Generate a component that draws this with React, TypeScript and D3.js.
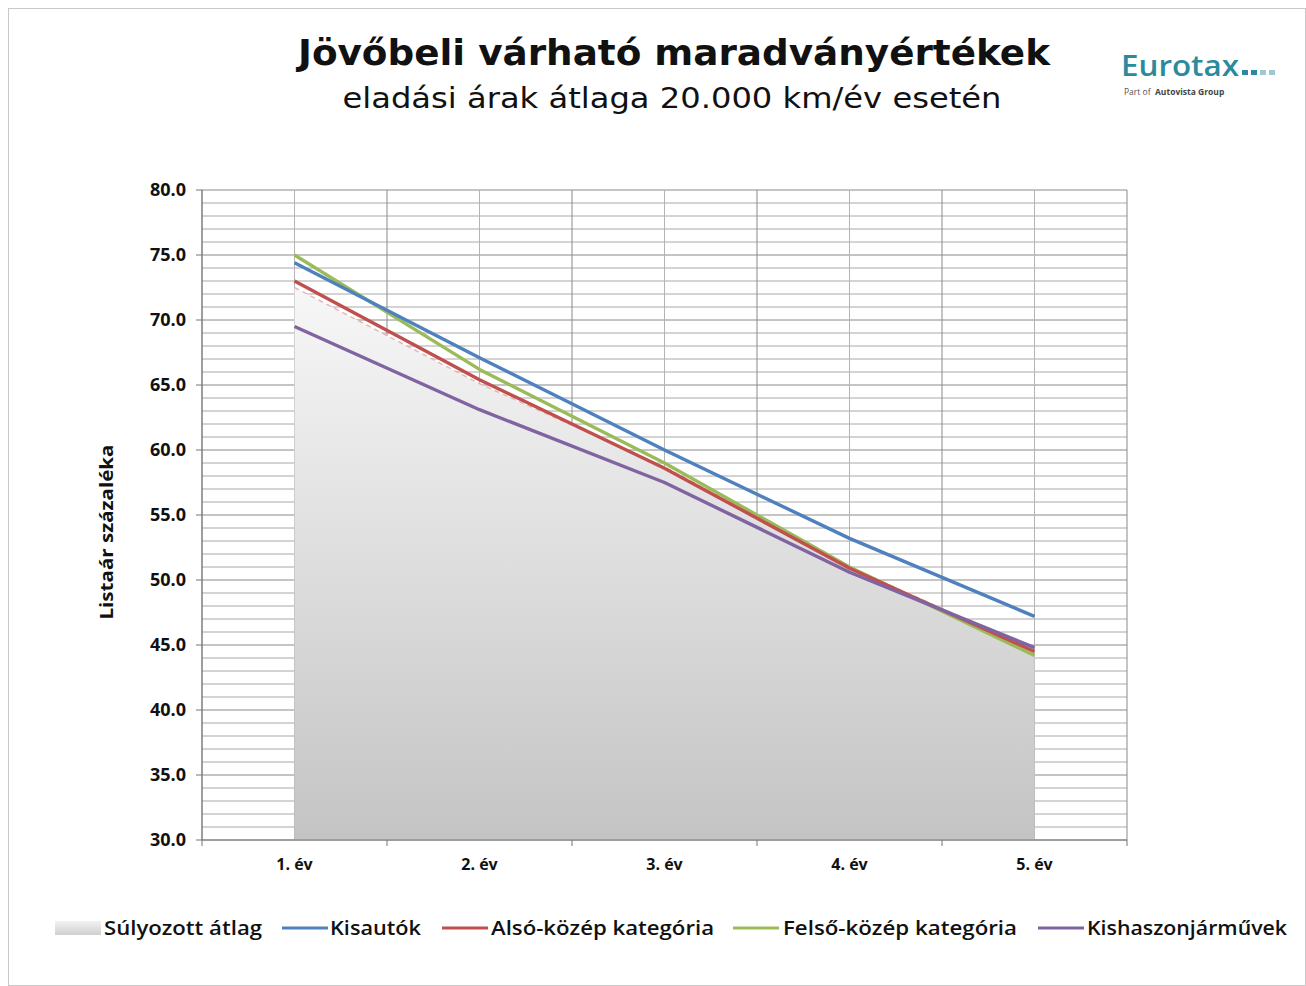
import React from "react";
import * as d3 from "d3";

const categories = ["1. év", "2. év", "3. év", "4. év", "5. év"];
const avgSeries = [72.5, 65.1, 58.7, 51.0, 44.6];
const kisautok = [74.4, 67.1, 60.0, 53.2, 47.2];
const alsoKozep = [73.0, 65.4, 58.6, 50.9, 44.5];
const felsoKozep = [75.0, 66.2, 59.0, 51.0, 44.2];
const kishaszon = [69.5, 63.1, 57.5, 50.6, 44.8];
const yTicks = [30, 35, 40, 45, 50, 55, 60, 65, 70, 75, 80];

const lineSeries = [
  { name: "Kisautók", values: kisautok, color: "#4f81bd" },
  { name: "Alsó-közép kategória", values: alsoKozep, color: "#c0504d" },
  { name: "Felső-közép kategória", values: felsoKozep, color: "#9bbb59" },
  { name: "Kishaszonjárművek", values: kishaszon, color: "#8064a2" },
];
const drawOrder = [2, 1, 0, 3];

const W = 1306;
const H = 986;
const left = 202, right = 1127, top = 190, bottom = 840;
const FONT = "'Open Sans', sans-serif";
const TFONT = "'DejaVu Sans', sans-serif";

export default function App() {
  const x = d3.scaleBand<string>().domain(categories).range([left, right]);
  const cx = (c: string) => (x(c) as number) + x.bandwidth() / 2;
  const y = d3.scaleLinear().domain([30, 80]).range([bottom, top]);
  const minor = d3.range(30, 81, 1);

  const line = d3
    .line<number>()
    .x((_, i) => cx(categories[i]))
    .y((d) => y(d));
  const area = d3
    .area<number>()
    .x((_, i) => cx(categories[i]))
    .y0(y(30))
    .y1((d) => y(d));

  const vLines: number[] = [];
  categories.forEach((c) => {
    vLines.push(x(c) as number);
    vLines.push(cx(c));
  });
  vLines.push(right);

  const legendItems = [
    { label: "Súlyozott átlag", sw: 55, tx: 104, len: 158, type: "area", color: "" },
    { label: "Kisautók", sw: 282, tx: 330, len: 91, type: "line", color: "#4f81bd" },
    { label: "Alsó-közép kategória", sw: 442, tx: 491, len: 223, type: "line", color: "#c0504d" },
    { label: "Felső-közép kategória", sw: 733, tx: 783, len: 234, type: "line", color: "#9bbb59" },
    { label: "Kishaszonjárművek", sw: 1038, tx: 1087, len: 200, type: "line", color: "#8064a2" },
  ];

  return (
    <svg
      width={W}
      height={H}
      style={{ position: "absolute", left: 0, top: 0, background: "#fff" }}
      fontFamily={FONT}
    >
      <defs>
        <linearGradient id="avgGrad" x1="0" y1="0" x2="0" y2="1">
          <stop offset="0%" stopColor="#f7f7f7" />
          <stop offset="100%" stopColor="#c4c4c4" />
        </linearGradient>
        <linearGradient id="legGrad" x1="0" y1="0" x2="0" y2="1">
          <stop offset="0%" stopColor="#f2f2f2" />
          <stop offset="100%" stopColor="#cfcfcf" />
        </linearGradient>
      </defs>
      <rect x={8.5} y={8.5} width={W - 9} height={H - 9} fill="#fff" stroke="#c8c8c8" />

      {/* Title */}
      <text x={674} y={65} textAnchor="middle" fontSize={36} fontWeight={700} fill="#111" fontFamily={TFONT} textLength={752} lengthAdjust="spacingAndGlyphs">
        Jövőbeli várható maradványértékek
      </text>
      <text x={672} y={108} textAnchor="middle" fontSize={28} fill="#111" fontFamily={TFONT} textLength={659} lengthAdjust="spacingAndGlyphs">
        eladási árak átlaga 20.000 km/év esetén
      </text>

      {/* Logo */}
      <text x={1121} y={76} fontSize={29} fontWeight={600} fill="#2b8a9c" textLength={118} lengthAdjust="spacingAndGlyphs">
        Eurotax
      </text>
      {[0, 1, 2, 3].map((i) => (
        <rect key={i} x={1242 + i * 9} y={70} width={6} height={5} fill={i < 2 ? "#2b8a9c" : "#9fc9d2"} />
      ))}
      <text x={1124} y={95} fontSize={8.5} fill="#555">
        Part of
      </text>
      <text x={1155} y={95} fontSize={8.5} fontWeight={700} fill="#444">
        Autovista Group
      </text>

      {/* Grid */}
      {minor.map((v) => (
        <line key={"h" + v} x1={left} x2={right} y1={y(v)} y2={y(v)} stroke={v % 5 === 0 ? "#8a8a8a" : "#a8a8a8"} strokeWidth={1} />
      ))}
      {vLines.map((vx, i) => (
        <line key={"v" + i} x1={vx} x2={vx} y1={top} y2={bottom} stroke={i % 2 === 0 ? "#8a8a8a" : "#b4b4b4"} strokeWidth={1} />
      ))}

      {/* Average area */}
      <path d={area(avgSeries) as string} fill="url(#avgGrad)" />
      <path d={line(avgSeries) as string} fill="none" stroke="#e3b8b8" strokeWidth={1.5} strokeDasharray="5,4" />

      {/* Axes */}
      <line x1={left} x2={left} y1={top} y2={bottom} stroke="#777" />
      <line x1={left} x2={right} y1={bottom} y2={bottom} stroke="#777" />
      {yTicks.map((v) => (
        <g key={"yt" + v}>
          <line x1={left - 6} x2={left} y1={y(v)} y2={y(v)} stroke="#777" />
          <text x={186} y={y(v) + 6} textAnchor="end" fontSize={18} fontWeight={700} fill="#111">
            {v.toFixed(1)}
          </text>
        </g>
      ))}
      {categories.map((c) => (
        <line key={"xt" + c} x1={(x(c) as number)} x2={(x(c) as number)} y1={bottom} y2={bottom + 6} stroke="#777" />
      ))}
      <line x1={right} x2={right} y1={bottom} y2={bottom + 6} stroke="#777" />
      {categories.map((c) => (
        <text key={"xl" + c} x={cx(c)} y={870} textAnchor="middle" fontSize={16} fontWeight={700} fill="#111">
          {c}
        </text>
      ))}
      <text
        transform={`translate(113,${532}) rotate(-90)`}
        textAnchor="middle"
        fontSize={17}
        fontWeight={700}
        fill="#111"
        textLength={175}
        lengthAdjust="spacingAndGlyphs"
      >
        Listaár százaléka
      </text>

      {/* Lines */}
      {drawOrder.map((i) => (
        <path
          key={lineSeries[i].name}
          d={line(lineSeries[i].values) as string}
          fill="none"
          stroke={lineSeries[i].color}
          strokeWidth={3.4}
          strokeLinejoin="round"
        />
      ))}

      {/* Legend */}
      {legendItems.map((it) => (
        <g key={it.label}>
          {it.type === "area" ? (
            <rect x={it.sw} y={921} width={46} height={14} fill="url(#legGrad)" />
          ) : (
            <line x1={it.sw} x2={it.sw + 46} y1={928} y2={928} stroke={it.color} strokeWidth={3.2} />
          )}
          <text x={it.tx} y={935} fontSize={19} fontWeight={600} fill="#111" textLength={it.len} lengthAdjust="spacingAndGlyphs">
            {it.label}
          </text>
        </g>
      ))}
    </svg>
  );
}
